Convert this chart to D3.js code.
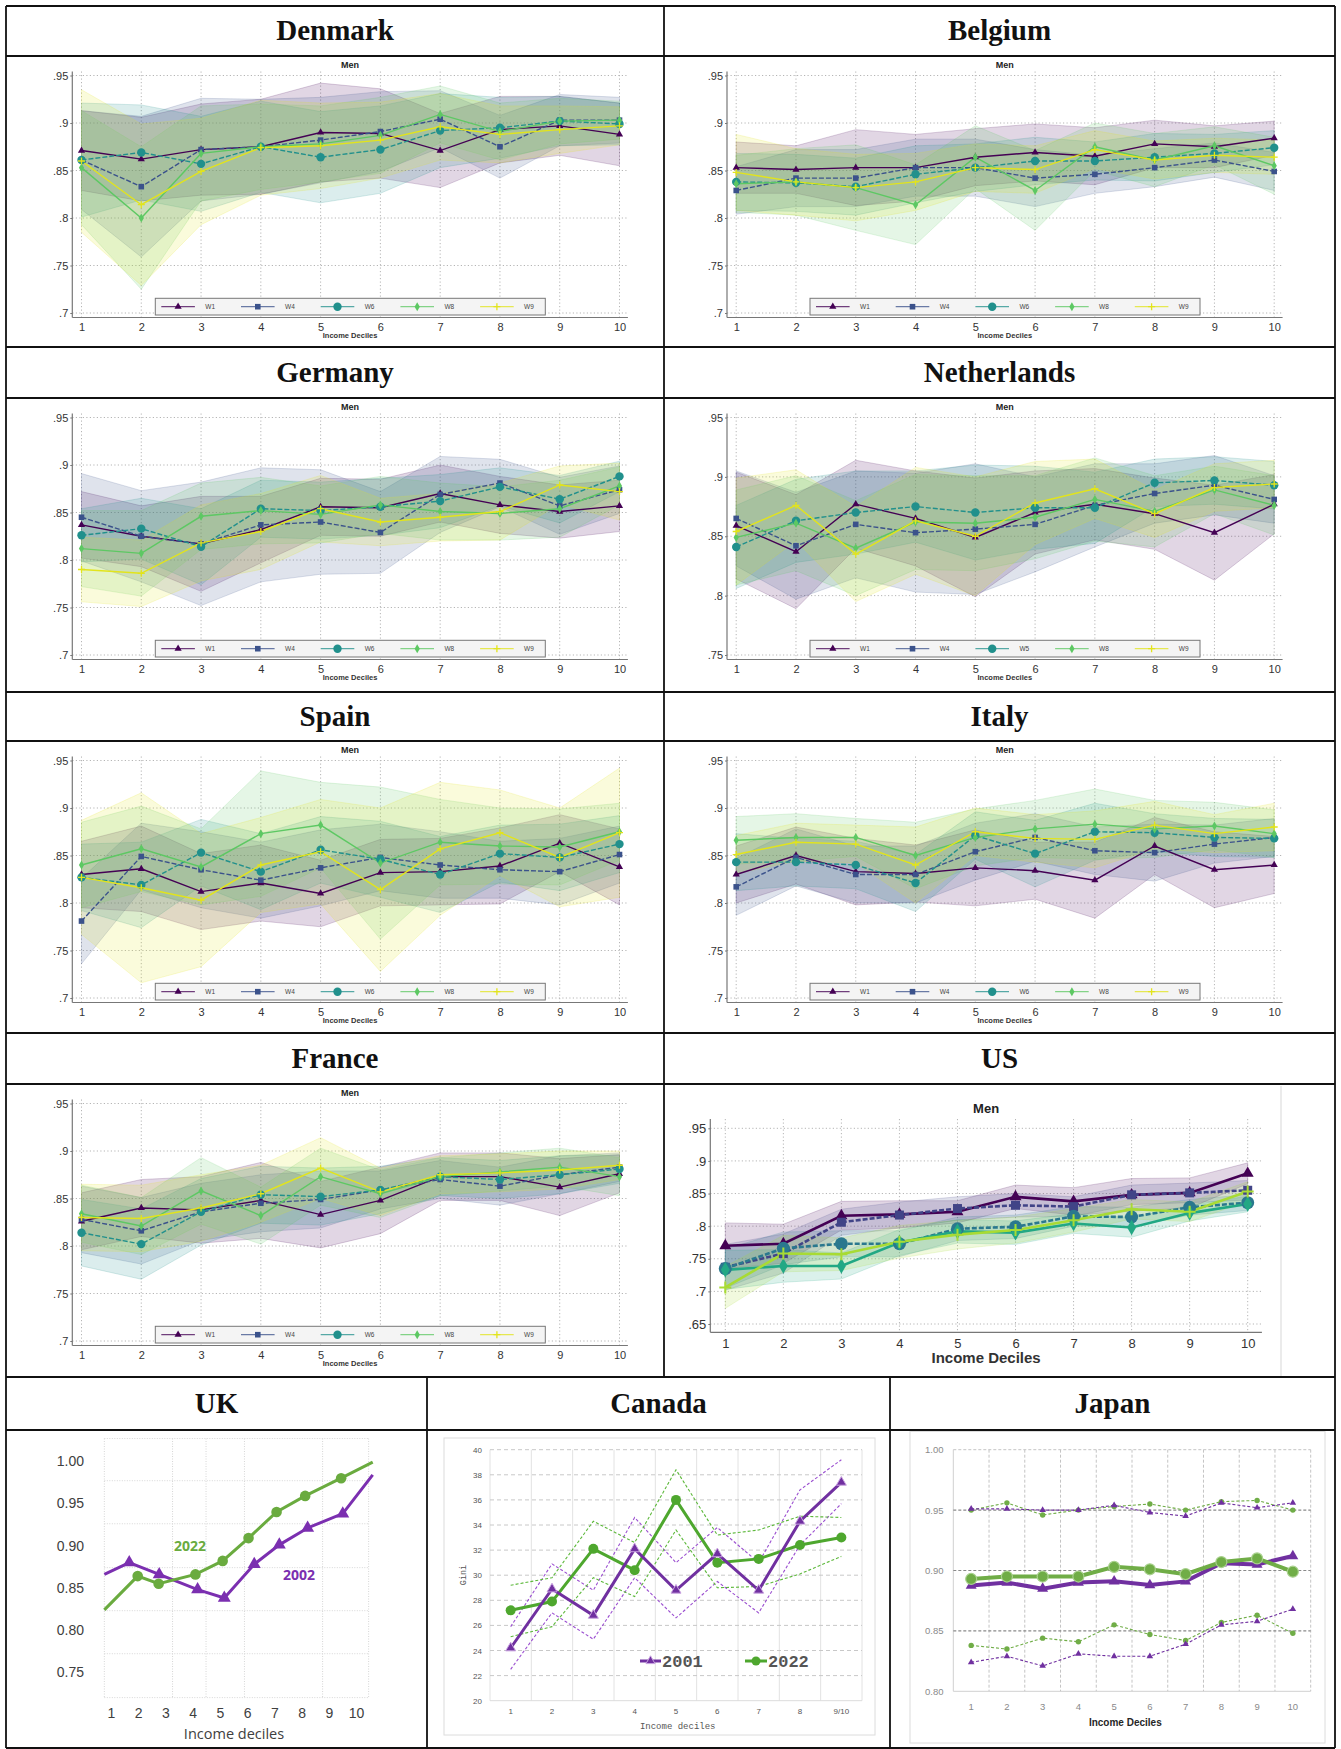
<!DOCTYPE html>
<html>
<head>
<meta charset="utf-8">
<script src="https://cdn.jsdelivr.net/npm/d3@7"></script>
<style>
  body { margin: 0; background: #fff; }
</style>
</head>
<body>
<div id="chart"></div>
<script>
// ---------- data ----------
var deciles = [1, 2, 3, 4, 5, 6, 7, 8, 9, 10]
var waveNames = ['W1', 'W4', 'W6', 'W8', 'W9']
var waveNamesNL = ['W1', 'W4', 'W5', 'W8', 'W9']
var stataTicks = [.7, .75, .8, .85, .9, .95]
var stataTicksNL = [.75, .8, .85, .9, .95]
var usTicks = [.65, .7, .75, .8, .85, .9, .95]

// rows: W1, W4, W6, W8, W9 ; ci = half width of the band
var denmarkMean = [
  [.871, .862, .872, .875, .890, .889, .871, .893, .897, .888],
  [.861, .833, .872, .875, .882, .891, .904, .875, .903, .903],
  [.861, .869, .857, .875, .864, .872, .892, .895, .902, .899],
  [.853, .800, .868, .875, .878, .887, .909, .891, .902, .903],
  [.860, .814, .849, .874, .876, .882, .896, .888, .893, .897]
]
var denmarkCI = [
  [.042, .044, .048, .050, .052, .047, .039, .035, .031, .033],
  [.052, .074, .054, .050, .045, .042, .030, .033, .027, .024],
  [.060, .050, .050, .048, .048, .046, .039, .032, .026, .022],
  [.060, .075, .050, .045, .040, .040, .030, .030, .024, .020],
  [.075, .085, .056, .050, .045, .040, .035, .030, .025, .020]
]
var belgiumMean = [
  [.853, .851, .853, .853, .864, .869, .865, .878, .875, .884],
  [.829, .842, .842, .853, .853, .842, .846, .853, .861, .849],
  [.838, .837, .833, .846, .853, .860, .860, .864, .868, .874],
  [.836, .838, .832, .814, .864, .829, .875, .861, .876, .855],
  [.848, .838, .832, .838, .853, .851, .872, .861, .866, .864]
]
var belgiumCI = [
  [.027, .025, .040, .035, .030, .030, .030, .025, .022, .018],
  [.025, .030, .030, .030, .030, .030, .020, .020, .018, .020],
  [.030, .030, .030, .030, .025, .025, .020, .025, .020, .018],
  [.030, .035, .045, .042, .033, .042, .025, .028, .020, .030],
  [.040, .035, .035, .030, .025, .025, .020, .020, .018, .018]
]
var germanyMean = [
  [.837, .825, .817, .832, .856, .855, .870, .858, .851, .857],
  [.845, .825, .817, .837, .840, .829, .869, .881, .857, .874],
  [.826, .833, .814, .854, .852, .856, .862, .877, .864, .888],
  [.812, .807, .846, .852, .848, .858, .851, .849, .854, .878],
  [.790, .786, .818, .830, .854, .840, .845, .851, .879, .872]
]
var germanyCI = [
  [.035, .032, .050, .035, .030, .030, .030, .030, .028, .027],
  [.046, .048, .065, .060, .055, .043, .040, .025, .030, .025],
  [.028, .032, .040, .030, .030, .030, .028, .020, .025, .016],
  [.040, .045, .035, .035, .030, .030, .030, .028, .030, .020],
  [.034, .035, .040, .040, .035, .025, .025, .030, .020, .030]
]
var netherlandsMean = [
  [.859, .837, .877, .865, .849, .870, .877, .869, .853, .877],
  [.865, .842, .860, .853, .856, .860, .876, .886, .893, .881],
  [.841, .863, .870, .875, .870, .874, .874, .895, .897, .893],
  [.849, .861, .840, .862, .861, .866, .881, .871, .889, .876],
  [.854, .876, .835, .863, .850, .878, .890, .869, .891, .894]
]
var netherlandsCI = [
  [.045, .048, .037, .040, .050, .035, .030, .030, .040, .025],
  [.040, .045, .045, .050, .055, .040, .035, .025, .025, .020],
  [.035, .035, .035, .030, .040, .035, .030, .020, .020, .020],
  [.040, .040, .040, .040, .040, .035, .035, .030, .020, .025],
  [.045, .030, .040, .045, .050, .035, .025, .020, .020, .020]
]
var spainMean = [
  [.830, .836, .812, .821, .810, .832, .833, .839, .863, .838],
  [.781, .849, .835, .824, .837, .848, .840, .835, .833, .851],
  [.827, .819, .853, .833, .856, .846, .830, .852, .848, .862],
  [.840, .857, .838, .873, .882, .842, .864, .860, .859, .875],
  [.827, .816, .803, .840, .854, .814, .857, .874, .848, .874]
]
var spainCI = [
  [.035, .045, .040, .040, .035, .035, .035, .040, .030, .040],
  [.045, .035, .040, .040, .040, .035, .035, .030, .035, .030],
  [.035, .045, .035, .040, .035, .040, .040, .030, .035, .030],
  [.045, .045, .040, .066, .045, .080, .045, .040, .040, .030],
  [.060, .100, .070, .050, .055, .086, .070, .045, .052, .068]
]
var italyMean = [
  [.830, .850, .833, .831, .837, .834, .824, .860, .835, .840],
  [.817, .848, .830, .830, .854, .869, .855, .853, .862, .869],
  [.843, .843, .840, .821, .871, .852, .875, .874, .869, .868],
  [.866, .869, .869, .850, .869, .878, .883, .878, .881, .873],
  [.851, .864, .862, .840, .875, .868, .867, .882, .873, .880]
]
var italyCI = [
  [.030, .030, .035, .030, .040, .030, .040, .030, .040, .030],
  [.030, .030, .030, .030, .030, .025, .025, .030, .020, .020],
  [.030, .025, .025, .030, .025, .035, .030, .020, .020, .020],
  [.025, .025, .020, .035, .030, .030, .037, .030, .025, .025],
  [.020, .020, .020, .040, .025, .025, .030, .025, .020, .025]
]
var franceMean = [
  [.826, .840, .838, .848, .833, .848, .873, .873, .862, .876],
  [.828, .816, .836, .845, .849, .859, .870, .863, .875, .883],
  [.814, .802, .836, .854, .852, .859, .873, .870, .875, .881],
  [.834, .821, .858, .832, .873, .855, .873, .878, .883, .873],
  [.830, .829, .840, .855, .882, .857, .875, .877, .880, .885]
]
var franceCI = [
  [.030, .030, .035, .040, .035, .035, .025, .025, .030, .020],
  [.035, .035, .030, .030, .030, .020, .020, .020, .020, .015],
  [.035, .037, .035, .030, .030, .025, .020, .020, .020, .015],
  [.030, .030, .035, .030, .030, .025, .020, .020, .020, .020],
  [.035, .035, .035, .030, .032, .025, .020, .020, .020, .015]
]
var usMean = [
  [.770, .773, .816, .818, .822, .845, .838, .848, .851, .881],
  [.737, .758, .806, .817, .827, .832, .830, .848, .851, .855],
  [.735, .766, .773, .773, .796, .799, .815, .814, .829, .836],
  [.733, .739, .739, .775, .792, .790, .804, .798, .820, .834],
  [.706, .758, .757, .776, .787, .794, .809, .826, .822, .853]
]
var usCI = [
  [.035, .030, .022, .021, .017, .018, .021, .025, .023, .016],
  [.035, .030, .020, .020, .018, .018, .015, .015, .015, .015],
  [.030, .025, .020, .020, .018, .018, .015, .015, .012, .012],
  [.030, .025, .020, .020, .018, .018, .015, .015, .012, .012],
  [.032, .028, .025, .025, .022, .020, .018, .015, .015, .015]
]

// UK: points sit off the printed decile labels, x read in label units
var ukTicks = [.75, .8, .85, .9, .95, 1]
var ukX2022 = [.755, 1.98, 2.75, 4.10, 5.10, 6.05, 7.08, 8.13, 9.45, 10.61]
var ukY2022 = [.824, .864, .855, .866, .882, .909, .940, .959, .980, .999]
var ukX2002 = [.755, 1.67, 2.77, 4.18, 5.16, 6.26, 7.18, 8.22, 9.51, 10.61]
var ukY2002 = [.866, .880, .866, .848, .838, .878, .901, .921, .938, .984]
var ukHGrid = [1.027, .977, .926, .874, .823, .772, .72]
var ukVGrid = [.755, 3.26, 4.49, 5.9, 8.77, 10.46]

// Canada (Gini)
var caCats = ['1', '2', '3', '4', '5', '6', '7', '8', '9/10']
var caTicks = [20, 22, 24, 26, 28, 30, 32, 34, 36, 38, 40]
var ca2001 = [24.2, 28.9, 26.8, 32.1, 28.8, 31.7, 28.8, 34.3, 37.4]
var ca2001Hi = [25.9, 30.9, 28.8, 34.6, 31.0, 33.8, 31.0, 36.8, 39.2]
var ca2001Lo = [22.5, 27.0, 24.9, 29.8, 26.6, 29.5, 27.0, 32.4, 35.7]
var ca2022 = [27.2, 27.9, 32.1, 30.4, 36.0, 31.0, 31.3, 32.4, 33.0]
var ca2022Hi = [29.2, 29.8, 34.3, 32.6, 38.4, 33.2, 33.6, 34.7, 34.6]
var ca2022Lo = [25.1, 25.9, 29.8, 28.3, 33.6, 29.0, 29.1, 30.1, 31.5]

// Japan
var jpTicks = [.8, .85, .9, .95, 1]
var jp2001 = [.8875, .890, .885, .890, .891, .888, .891, .906, .905, .912]
var jp2022 = [.893, .895, .895, .895, .903, .901, .897, .907, .910, .899]
var jp2001Hi = [.951, .951, .950, .950, .954, .948, .945, .956, .952, .956]
var jp2022Hi = [.950, .956, .946, .950, .953, .955, .950, .957, .958, .950]
var jp2001Lo = [.824, .829, .821, .831, .829, .829, .839, .855, .858, .868]
var jp2022Lo = [.838, .835, .844, .841, .855, .847, .842, .857, .863, .848]

var titles = ['Denmark', 'Belgium', 'Germany', 'Netherlands', 'Spain', 'Italy', 'France', 'US', 'UK', 'Canada', 'Japan']

// ---------- styles ----------
var waveColors = ['#440154', '#3b528b', '#21908c', '#5dc863', '#e2e41c']
var usColors = ['#440154', '#414487', '#2a788e', '#22a884', '#a8db34']
var waveMarks = ['triangle', 'square', 'circle', 'diamond', 'plus']
var waveDash = [null, '5,2', '5,2', null, null]
var green = '#6aab3f'

var W = 1341, H = 1749
var rowY = [6, 56, 347, 398, 692, 741, 1033, 1084, 1377, 1430, 1748]
var colX = [6, 664, 1335]
var colX5 = [6, 427, 890, 1335]

var svg = d3.select('#chart').append('svg')
  .attr('width', W).attr('height', H)
  .style('font-family', 'Liberation Sans, Arial, sans-serif')
svg.append('rect').attr('width', W).attr('height', H).attr('fill', '#fff')

var stataFmt = function(d){ return d3.format('~g')(d).replace(/^0/, '') }
var symType = {triangle: d3.symbolTriangle, square: d3.symbolSquare, circle: d3.symbolCircle, diamond: d3.symbolDiamond}
var symK = {triangle: 1.73, square: 4, circle: Math.PI, diamond: 2.3}

function drawMarker(g, type, cx, cy, s, color, stroke){
  if (type == 'plus'){
    return g.append('path')
      .attr('d', 'M' + (cx - s) + ',' + cy + 'H' + (cx + s) + 'M' + cx + ',' + (cy - s) + 'V' + (cy + s))
      .attr('stroke', color).attr('stroke-width', s > 4 ? 2 : 1.3).attr('fill', 'none')
  }
  var p = g.append('path')
    .attr('d', d3.symbol().type(symType[type]).size(s * s * symK[type])())
    .attr('transform', 'translate(' + cx + ',' + cy + ')')
    .attr('fill', color)
  if (stroke) p.attr('stroke', stroke.c).attr('stroke-width', stroke.w)
  return p
}

// ---------- Stata style panels ----------
function drawStata(o){
  var g = svg.append('g')
  var x = d3.scaleLinear().domain([1, 10]).range([o.x1, o.x10])
  var y = d3.scaleLinear().domain(o.domain).range([o.yBot, o.yTop])

  g.selectAll(null).data(o.ticks).join('line')
    .attr('x1', o.axisX).attr('x2', o.plotRight)
    .attr('y1', function(d){ return y(d) }).attr('y2', function(d){ return y(d) })
    .attr('stroke', '#b5b5b5').attr('stroke-width', 1).attr('stroke-dasharray', '1.2,2.3')
  g.selectAll(null).data(deciles).join('line')
    .attr('x1', function(d){ return x(d) }).attr('x2', function(d){ return x(d) })
    .attr('y1', o.axisTop).attr('y2', o.xAxisY)
    .attr('stroke', '#b5b5b5').attr('stroke-width', 1).attr('stroke-dasharray', '1.2,2.3')

  // confidence bands
  o.mean.forEach(function(m, i){
    var hw = o.ci[i]
    var area = d3.area()
      .x(function(d, j){ return x(deciles[j]) })
      .y0(function(d, j){ return y(d - hw[j]) })
      .y1(function(d, j){ return y(d + hw[j]) })
    g.append('path').attr('d', area(m))
      .attr('fill', o.colors[i]).attr('fill-opacity', .16)
      .attr('stroke', o.colors[i]).attr('stroke-opacity', .18).attr('stroke-width', 1)
  })

  var line = d3.line().x(function(d, j){ return x(deciles[j]) }).y(function(d){ return y(d) })
  o.mean.forEach(function(m, i){
    g.append('path').attr('d', line(m))
      .attr('fill', 'none').attr('stroke', o.colors[i]).attr('stroke-width', o.lw)
      .attr('stroke-dasharray', waveDash[i])
  })
  o.mean.forEach(function(m, i){
    m.forEach(function(v, j){
      drawMarker(g, waveMarks[i], x(deciles[j]), y(v), o.ms[i], o.colors[i])
    })
  })

  // axes
  g.append('line').attr('x1', o.axisX).attr('x2', o.axisX).attr('y1', o.axisTop).attr('y2', o.xAxisY)
    .attr('stroke', '#777').attr('stroke-width', 1.2)
  g.append('line').attr('x1', o.axisX).attr('x2', o.plotRight).attr('y1', o.xAxisY).attr('y2', o.xAxisY)
    .attr('stroke', '#777').attr('stroke-width', 1.2)

  var ya = g.append('g').attr('transform', 'translate(' + o.axisX + ',0)')
    .call(d3.axisLeft(y).tickValues(o.ticks).tickFormat(stataFmt).tickSize(2).tickPadding(2))
  ya.select('.domain').remove()
  ya.selectAll('line').attr('stroke', '#777')
  ya.selectAll('text').attr('font-size', o.tickSize).attr('fill', '#333')
    .attr('font-family', 'Liberation Sans, Arial, sans-serif')

  var xa = g.append('g').attr('transform', 'translate(0,' + o.xAxisY + ')')
    .call(d3.axisBottom(x).tickValues(deciles).tickFormat(d3.format('d')).tickSize(0).tickPadding(0))
  xa.select('.domain').remove()
  xa.selectAll('text').attr('y', null).attr('dy', null)
    .attr('transform', 'translate(0,' + (o.tickY - o.xAxisY) + ')')
    .attr('font-size', o.tickSize).attr('fill', '#333')
    .attr('font-family', 'Liberation Sans, Arial, sans-serif')

  var cx = (o.axisX + o.plotRight) / 2
  g.append('text').attr('x', cx).attr('y', o.menY).attr('text-anchor', 'middle')
    .attr('font-size', o.menSize).attr('font-weight', 'bold').attr('fill', '#222').text('Men')
  g.append('text').attr('x', cx).attr('y', o.xlabY).attr('text-anchor', 'middle')
    .attr('font-size', o.xlabSize).attr('font-weight', 'bold').attr('fill', '#333').text('Income Deciles')

  if (o.legend){
    var L = o.legend
    g.append('rect').attr('x', L.x).attr('y', L.y).attr('width', 390).attr('height', 16.7)
      .attr('fill', '#f4f4f4').attr('stroke', '#777').attr('stroke-width', 1)
    L.names.forEach(function(n, i){
      var lx = L.x + 6 + i * 79.7, ly = L.y + 8.4
      g.append('line').attr('x1', lx).attr('x2', lx + 33.6).attr('y1', ly).attr('y2', ly)
        .attr('stroke', o.colors[i]).attr('stroke-width', 1.3).attr('stroke-opacity', .75)
      drawMarker(g, waveMarks[i], lx + 16.8, ly, o.ms[i], o.colors[i])
      g.append('text').attr('x', lx + 44).attr('y', ly + 2.3).attr('font-size', 6.5)
        .attr('fill', '#444').text(n)
    })
  }
}

function stataPanel(col, row, mean, ci, names, ticks){
  var left = colX[col], top = rowY[2 * row + 1]
  var axisX = left + (col == 0 ? 66.3 : 63)
  drawStata({
    axisX: axisX, x1: axisX + 9.2, x10: axisX + 547.2, plotRight: axisX + 555.6,
    yTop: top + 19.5, yBot: top + 257, xAxisY: top + 261.5, axisTop: top + 15.5,
    domain: [ticks[0], ticks[ticks.length - 1]], ticks: ticks,
    menY: top + 11.5, menSize: 9, tickY: top + 275, tickSize: 11,
    xlabY: top + 281.5, xlabSize: 7.5,
    legend: {x: axisX + 83, y: top + 242.3, names: names},
    mean: mean, ci: ci, colors: waveColors, lw: 1.4, ms: [3.6, 2.8, 4.2, 3.2, 3.5]
  })
}

stataPanel(0, 0, denmarkMean, denmarkCI, waveNames, stataTicks)
stataPanel(1, 0, belgiumMean, belgiumCI, waveNames, stataTicks)
stataPanel(0, 1, germanyMean, germanyCI, waveNames, stataTicks)
stataPanel(1, 1, netherlandsMean, netherlandsCI, waveNamesNL, stataTicksNL)
stataPanel(0, 2, spainMean, spainCI, waveNames, stataTicks)
stataPanel(1, 2, italyMean, italyCI, waveNames, stataTicks)
stataPanel(0, 3, franceMean, franceCI, waveNames, stataTicks)

// US panel
svg.append('line').attr('x1', 1281).attr('x2', 1281).attr('y1', 1086).attr('y2', 1376)
  .attr('stroke', '#e4e4e4').attr('stroke-width', 1.5)
drawStata({
  axisX: 710.3, x1: 725.3, x10: 1247.7, plotRight: 1261.9,
  yTop: 1128.3, yBot: 1324, xAxisY: 1332.3, axisTop: 1119,
  domain: [.65, .95], ticks: usTicks,
  menY: 1112.8, menSize: 13, tickY: 1348, tickSize: 13,
  xlabY: 1363, xlabSize: 15,
  legend: null,
  mean: usMean, ci: usCI, colors: usColors, lw: 2.6, ms: [6, 4.5, 6.5, 5.5, 6]
})

// ---------- UK ----------
;(function(){
  var g = svg.append('g').style('font-family', 'Open Sans, Liberation Sans, sans-serif')
  var x = d3.scaleLinear().domain([1, 10]).range([111, 356.1])
  var y = d3.scaleLinear().domain([.75, 1]).range([1672.3, 1461.3])
  var gx0 = x(ukVGrid[0]), gx1 = x(ukVGrid[ukVGrid.length - 1])
  var gy0 = y(ukHGrid[0]), gy1 = y(ukHGrid[ukHGrid.length - 1])
  g.selectAll(null).data(ukHGrid).join('line')
    .attr('x1', gx0).attr('x2', gx1).attr('y1', function(d){ return y(d) }).attr('y2', function(d){ return y(d) })
    .attr('stroke', '#d6d6d6').attr('stroke-dasharray', '1,1.5')
  g.selectAll(null).data(ukVGrid).join('line')
    .attr('x1', function(d){ return x(d) }).attr('x2', function(d){ return x(d) }).attr('y1', gy0).attr('y2', gy1)
    .attr('stroke', '#d6d6d6').attr('stroke-dasharray', '1,1.5')

  var ya = g.append('g').attr('transform', 'translate(84,0)')
    .call(d3.axisLeft(y).tickValues(ukTicks).tickFormat(d3.format('.2f')).tickSize(0).tickPadding(0))
  ya.select('.domain').remove()
  ya.selectAll('text').attr('font-size', 14).attr('fill', '#404040').attr('font-family', null)
  var xa = g.append('g').attr('transform', 'translate(0,1718)')
    .call(d3.axisBottom(x).tickValues(deciles).tickFormat(d3.format('d')).tickSize(0).tickPadding(0))
  xa.select('.domain').remove()
  xa.selectAll('text').attr('dy', null).attr('y', 0).attr('font-size', 14).attr('fill', '#404040').attr('font-family', null)
  g.append('text').attr('x', 234).attr('y', 1738.5).attr('text-anchor', 'middle')
    .attr('font-size', 14.5).attr('fill', '#404040').text('Income deciles')

  var line = d3.line().x(function(d){ return x(d[0]) }).y(function(d){ return y(d[1]) })
  var p2002 = d3.zip(ukX2002, ukY2002), p2022 = d3.zip(ukX2022, ukY2022)
  g.append('path').attr('d', line(p2002)).attr('fill', 'none').attr('stroke', '#7b2fb0').attr('stroke-width', 3)
  g.append('path').attr('d', line(p2022)).attr('fill', 'none').attr('stroke', green).attr('stroke-width', 3)
  p2002.slice(1, -1).forEach(function(d){ drawMarker(g, 'triangle', x(d[0]), y(d[1]), 6.5, '#7b2fb0') })
  p2022.slice(1, -1).forEach(function(d){ drawMarker(g, 'circle', x(d[0]), y(d[1]), 5.3, green) })
  g.append('text').attr('x', 190).attr('y', 1551).attr('text-anchor', 'middle')
    .attr('font-size', 14).attr('font-weight', 'bold').attr('fill', green).text('2022')
  g.append('text').attr('x', 299).attr('y', 1580).attr('text-anchor', 'middle')
    .attr('font-size', 14).attr('font-weight', 'bold').attr('fill', '#7b2fb0').text('2002')
})()

// ---------- Canada ----------
;(function(){
  var g = svg.append('g').style('font-family', 'Liberation Mono, DejaVu Sans Mono, monospace')
  g.append('rect').attr('x', 444).attr('y', 1438).attr('width', 431).attr('height', 297)
    .attr('fill', '#fff').attr('stroke', '#dcdcdc')
  var x = d3.scaleBand().domain(caCats).range([490, 862])
  var y = d3.scaleLinear().domain([20, 40]).range([1700.7, 1449.7])
  var cx = function(d, j){ return x(caCats[j]) + x.bandwidth() / 2 }

  d3.range(10).forEach(function(k){
    var vx = 490 + k * x.step()
    g.append('line').attr('x1', vx).attr('x2', vx).attr('y1', 1449.7).attr('y2', 1700.7)
      .attr('stroke', '#e2e2e2')
  })
  g.selectAll(null).data(caTicks).join('line')
    .attr('x1', 490).attr('x2', 862).attr('y1', function(d){ return y(d) }).attr('y2', function(d){ return y(d) })
    .attr('stroke', function(d){ return d == 20 ? '#dcdcdc' : '#c8c8c8' })
    .attr('stroke-dasharray', function(d){ return d == 20 ? null : '4,3' })

  var ya = g.append('g').attr('transform', 'translate(482,0)')
    .call(d3.axisLeft(y).tickValues(caTicks).tickSize(0).tickPadding(0))
  ya.select('.domain').remove()
  ya.selectAll('text').attr('font-size', 8).attr('fill', '#555').attr('font-family', null)
  var xa = g.append('g').attr('transform', 'translate(0,1714)')
    .call(d3.axisBottom(x).tickSize(0).tickPadding(0))
  xa.select('.domain').remove()
  xa.selectAll('text').attr('dy', null).attr('y', 0).attr('font-size', 8).attr('fill', '#555').attr('font-family', null)
  g.append('text').attr('x', 677.7).attr('y', 1729).attr('text-anchor', 'middle')
    .attr('font-size', 9).attr('fill', '#555').text('Income deciles')
  g.append('text').attr('transform', 'translate(466,1575) rotate(-90)').attr('text-anchor', 'middle')
    .attr('font-size', 8.5).attr('fill', '#555').text('Gini')

  var line = d3.line().x(cx).y(function(d){ return y(d) })
  ;[[ca2001Hi, '#9b4fd0'], [ca2001Lo, '#9b4fd0'], [ca2022Hi, '#5cb83a'], [ca2022Lo, '#5cb83a']].forEach(function(s){
    g.append('path').attr('d', line(s[0])).attr('fill', 'none').attr('stroke', s[1])
      .attr('stroke-width', 1.1).attr('stroke-dasharray', '3,2')
  })
  g.append('path').attr('d', line(ca2022)).attr('fill', 'none').attr('stroke', '#4ea72e').attr('stroke-width', 3)
  g.append('path').attr('d', line(ca2001)).attr('fill', 'none').attr('stroke', '#7030a0').attr('stroke-width', 3)
  ca2001.forEach(function(v, j){ drawMarker(g, 'triangle', cx(v, j), y(v), 5, '#7030a0', {c: '#c9a3e0', w: 1}) })
  ca2022.forEach(function(v, j){ drawMarker(g, 'circle', cx(v, j), y(v), 5, '#4ea72e') })

  // legend
  g.append('line').attr('x1', 640).attr('x2', 661).attr('y1', 1661).attr('y2', 1661).attr('stroke', '#7030a0').attr('stroke-width', 3)
  drawMarker(g, 'triangle', 650.5, 1661, 4.5, '#7030a0', {c: '#c9a3e0', w: 1})
  g.append('text').attr('x', 662).attr('y', 1667).attr('font-size', 17).attr('font-weight', 'bold').attr('fill', '#555').text('2001')
  g.append('line').attr('x1', 745).attr('x2', 767).attr('y1', 1661).attr('y2', 1661).attr('stroke', '#4ea72e').attr('stroke-width', 3)
  drawMarker(g, 'circle', 756, 1661, 4.5, '#4ea72e')
  g.append('text').attr('x', 768).attr('y', 1667).attr('font-size', 17).attr('font-weight', 'bold').attr('fill', '#555').text('2022')
})()

// ---------- Japan ----------
;(function(){
  var g = svg.append('g')
  g.append('rect').attr('x', 910).attr('y', 1431.5).attr('width', 415).attr('height', 311.5)
    .attr('fill', '#fff').attr('stroke', '#dcdcdc')
  var x = d3.scaleBand().domain(deciles).range([953.3, 1310.7])
  var y = d3.scaleLinear().domain([.8, 1]).range([1691.3, 1449.7])
  var cx = function(d, j){ return x(deciles[j]) + x.bandwidth() / 2 }

  d3.range(11).forEach(function(k){
    var vx = 953.3 + k * x.step()
    g.append('line').attr('x1', vx).attr('x2', vx).attr('y1', 1449.7).attr('y2', 1691.3)
      .attr('stroke', k == 0 ? '#d0d0d0' : '#c4c4c4').attr('stroke-dasharray', k == 0 ? null : '3,2')
  })
  g.selectAll(null).data(jpTicks).join('line')
    .attr('x1', 953.3).attr('x2', 1310.7).attr('y1', function(d){ return y(d) }).attr('y2', function(d){ return y(d) })
    .attr('stroke', function(d){ return d == .8 ? '#d0d0d0' : (d == 1 ? '#c4c4c4' : '#8a8a8a') })
    .attr('stroke-width', function(d){ return d == .8 || d == 1 ? 1 : 1.2 })
    .attr('stroke-dasharray', function(d){ return d == .8 ? null : '3,2' })

  var ya = g.append('g').attr('transform', 'translate(943.5,0)')
    .call(d3.axisLeft(y).tickValues(jpTicks).tickFormat(d3.format('.2f')).tickSize(0).tickPadding(0))
  ya.select('.domain').remove()
  ya.selectAll('text').attr('font-size', 9.5).attr('fill', '#8a8a8a')
  var xa = g.append('g').attr('transform', 'translate(0,1709.5)')
    .call(d3.axisBottom(x).tickSize(0).tickPadding(0))
  xa.select('.domain').remove()
  xa.selectAll('text').attr('dy', null).attr('y', 0).attr('font-size', 9.5).attr('fill', '#8a8a8a')
  g.append('text').attr('x', 1125.3).attr('y', 1725.5).attr('text-anchor', 'middle')
    .attr('font-size', 10).attr('font-weight', 'bold').attr('fill', '#262626').text('Income Deciles')

  var line = d3.line().x(cx).y(function(d){ return y(d) })
  ;[[jp2022Hi, '#70ad47', 'circle'], [jp2022Lo, '#70ad47', 'circle'], [jp2001Hi, '#7030a0', 'triangle'], [jp2001Lo, '#7030a0', 'triangle']].forEach(function(s){
    g.append('path').attr('d', line(s[0])).attr('fill', 'none').attr('stroke', s[1])
      .attr('stroke-width', 1.1).attr('stroke-dasharray', '3,2')
    s[0].forEach(function(v, j){ drawMarker(g, s[2], cx(v, j), y(v), s[2] == 'circle' ? 2.7 : 3.3, s[1]) })
  })
  g.append('path').attr('d', line(jp2001)).attr('fill', 'none').attr('stroke', '#7030a0').attr('stroke-width', 4)
  jp2001.forEach(function(v, j){ drawMarker(g, 'triangle', cx(v, j), y(v), 5.5, '#7030a0') })
  g.append('path').attr('d', line(jp2022)).attr('fill', 'none').attr('stroke', '#70ad47').attr('stroke-width', 4)
  jp2022.forEach(function(v, j){ drawMarker(g, 'circle', cx(v, j), y(v), 5.5, '#70ad47', {c: '#a9d18e', w: 1.2}) })
})()

// ---------- table ----------
var tg = svg.append('g')
rowY.forEach(function(yy){
  tg.append('line').attr('x1', 6).attr('x2', 1335).attr('y1', yy).attr('y2', yy)
    .attr('stroke', '#111').attr('stroke-width', 1.8)
})
colX.forEach(function(xx){
  tg.append('line').attr('x1', xx).attr('x2', xx).attr('y1', 6).attr('y2', 1377)
    .attr('stroke', '#111').attr('stroke-width', 1.8)
})
colX5.forEach(function(xx){
  tg.append('line').attr('x1', xx).attr('x2', xx).attr('y1', 1377).attr('y2', 1748)
    .attr('stroke', '#111').attr('stroke-width', 1.8)
})
titles.forEach(function(t, i){
  var cxx, top, bot
  if (i < 8){
    var r = Math.floor(i / 2), c = i % 2
    cxx = (colX[c] + colX[c + 1]) / 2; top = rowY[2 * r]; bot = rowY[2 * r + 1]
  } else {
    var c5 = i - 8
    cxx = (colX5[c5] + colX5[c5 + 1]) / 2; top = rowY[8]; bot = rowY[9]
  }
  tg.append('text').attr('x', cxx).attr('y', (top + bot) / 2 + 9).attr('text-anchor', 'middle')
    .attr('font-family', 'Liberation Serif, Times New Roman, serif')
    .attr('font-weight', 'bold').attr('font-size', 29).attr('fill', '#111').text(t)
})
</script>
</body>
</html>
